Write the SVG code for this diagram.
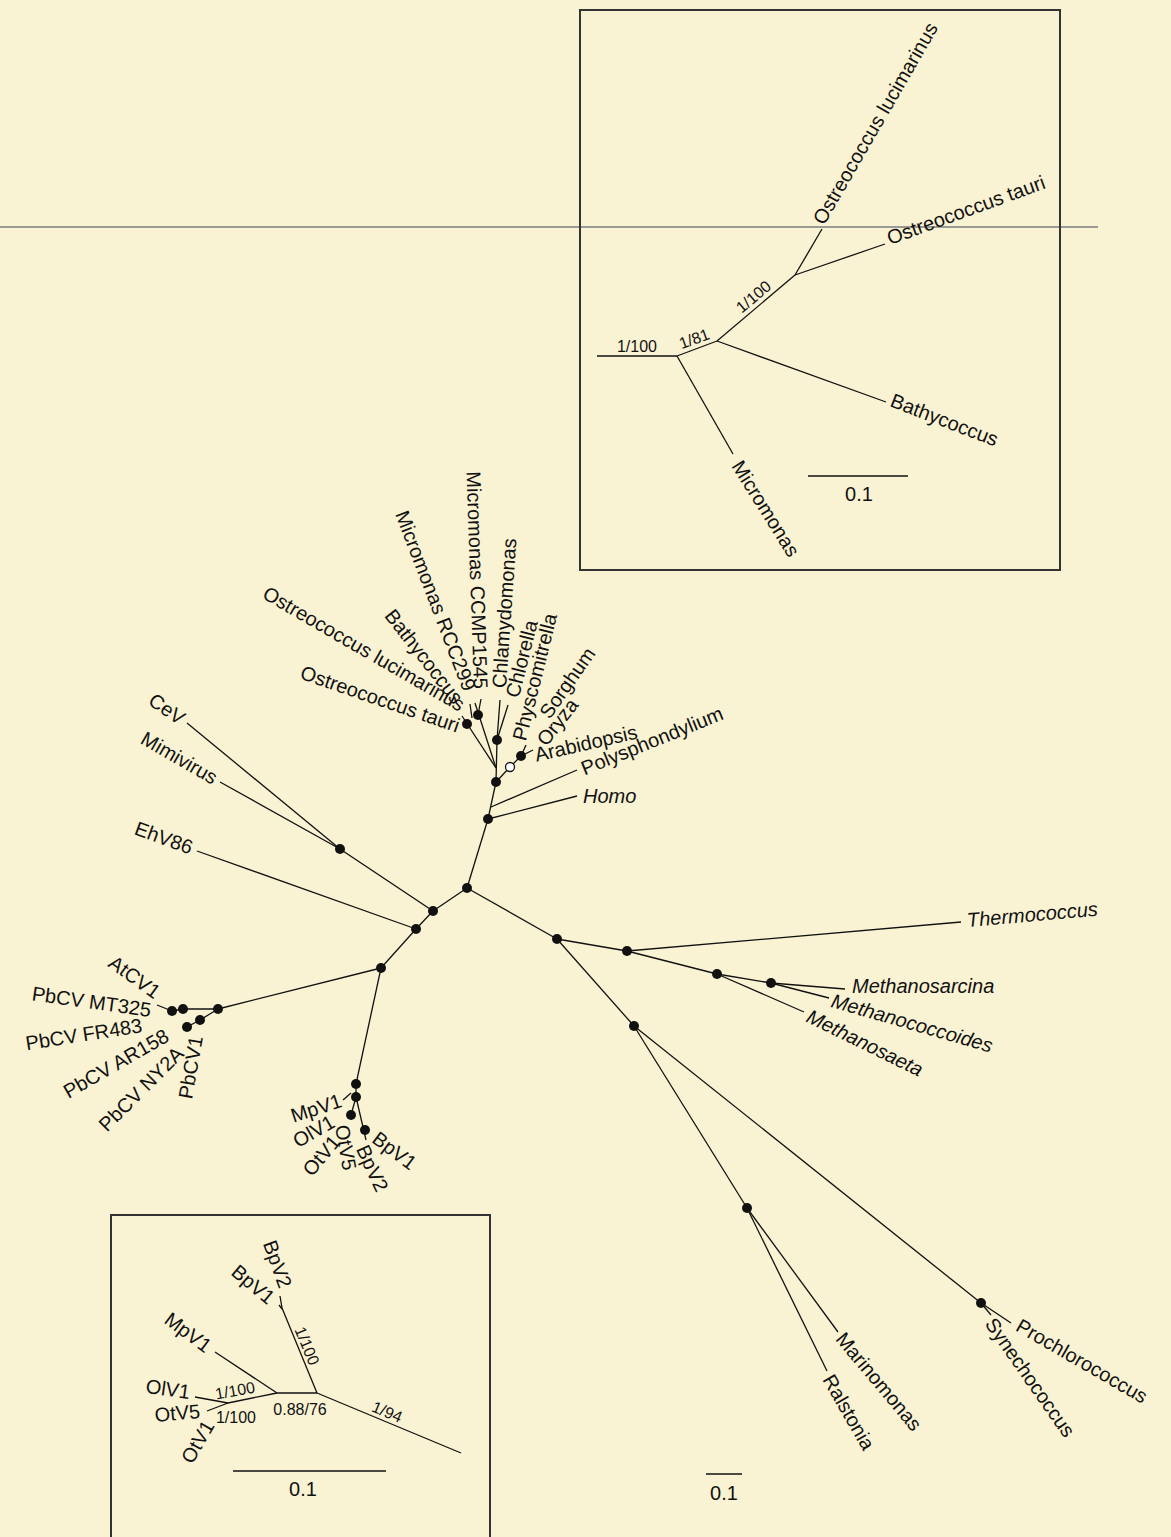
<svg xmlns="http://www.w3.org/2000/svg" width="1171" height="1537" viewBox="0 0 1171 1537">
<style>
.t{font-family:"Liberation Sans",Arial,sans-serif;font-size:20px;fill:#111}
.i{font-style:italic}
.s{font-size:16px}
.c{dominant-baseline:central}
.e line{stroke:#111;stroke-width:1.3;fill:none}
.d{fill:#111}
.o{fill:#fff;stroke:#111;stroke-width:1.3}
.box{fill:none;stroke:#333;stroke-width:2}
</style>
<rect width="1171" height="1537" fill="#FAF3D3"/>
<line x1="0" y1="227" x2="1098" y2="227" stroke="#9a9a96" stroke-width="2"/>

<!-- top inset -->
<g id="inset-top">
<rect class="box" x="580" y="10" width="480" height="560"/>
<g class="e">
<line x1="597" y1="356" x2="677" y2="356"/>
<line x1="677" y1="356" x2="717" y2="341"/>
<line x1="677" y1="356" x2="733" y2="454"/>
<line x1="717" y1="341" x2="795" y2="275"/>
<line x1="717" y1="341" x2="886" y2="402"/>
<line x1="795" y1="275" x2="822" y2="229"/>
<line x1="795" y1="275" x2="885" y2="244"/>
<line x1="808" y1="476" x2="908" y2="476"/>
</g>
<text class="t s" x="637" y="352" text-anchor="middle">1/100</text>
<text class="t s" text-anchor="middle" transform="translate(696,344) rotate(-20)">1/81</text>
<text class="t s" text-anchor="middle" transform="translate(757,301) rotate(-40)">1/100</text>
<text class="t" transform="translate(824,226) rotate(-60)">Ostreococcus lucimarinus</text>
<text class="t" transform="translate(890,245) rotate(-20)">Ostreococcus tauri</text>
<text class="t" transform="translate(889,406) rotate(21)">Bathycoccus</text>
<text class="t" transform="translate(731,466) rotate(58)">Micromonas</text>
<text class="t" x="859" y="501" text-anchor="middle">0.1</text>
</g>

<!-- bottom inset -->
<g id="inset-bottom">
<rect class="box" x="111" y="1215" width="379" height="340"/>
<g class="e">
<line x1="317" y1="1393" x2="277" y2="1393"/>
<line x1="277" y1="1393" x2="228" y2="1403"/>
<line x1="277" y1="1393" x2="215" y2="1352"/>
<line x1="317" y1="1393" x2="282" y2="1308"/>
<line x1="282" y1="1308" x2="280" y2="1296"/>
<line x1="282" y1="1309" x2="279" y2="1305"/>
<line x1="317" y1="1393" x2="461" y2="1453"/>
<line x1="228" y1="1403" x2="195" y2="1397"/>
<line x1="228" y1="1403" x2="207" y2="1411"/>
<line x1="233" y1="1471" x2="386" y2="1471"/>
</g>
<text class="t s" text-anchor="middle" transform="translate(385,1417) rotate(22.6)">1/94</text>
<text class="t s" text-anchor="middle" transform="translate(302,1348) rotate(67.6)">1/100</text>
<text class="t s" text-anchor="middle" transform="translate(236,1396) rotate(-10)">1/100</text>
<text class="t s" x="236" y="1423" text-anchor="middle">1/100</text>
<text class="t s" x="300" y="1415" text-anchor="middle">0.88/76</text>
<text class="t c" text-anchor="end" transform="translate(190,1392) rotate(8)">OlV1</text>
<text class="t c" text-anchor="end" transform="translate(200,1411) rotate(-5)">OtV5</text>
<text class="t c" text-anchor="end" transform="translate(209,1422) rotate(-60)">OtV1</text>
<text class="t c" text-anchor="end" transform="translate(209,1348) rotate(37)">MpV1</text>
<text class="t c" text-anchor="end" transform="translate(272,1300) rotate(40)">BpV1</text>
<text class="t c" text-anchor="end" transform="translate(286,1287) rotate(70)">BpV2</text>
<text class="t" x="303" y="1496" text-anchor="middle">0.1</text>
</g>

<!-- connectors of main tree -->
<g id="connectors" class="e">
<line x1="467" y1="888" x2="433" y2="911"/>
<line x1="433" y1="911" x2="340" y2="849"/>
<line x1="340" y1="849" x2="187" y2="723"/>
<line x1="340" y1="849" x2="220" y2="782"/>
<line x1="433" y1="911" x2="416" y2="929"/>
<line x1="416" y1="929" x2="197" y2="851"/>
<line x1="416" y1="929" x2="381" y2="968"/>
<line x1="381" y1="968" x2="218" y2="1009"/>
<line x1="218" y1="1009" x2="183" y2="1009"/>
<line x1="183" y1="1009" x2="172" y2="1011"/>
<line x1="172" y1="1011" x2="157" y2="1005"/>
<line x1="218" y1="1009" x2="200" y2="1020"/>
<line x1="200" y1="1020" x2="187" y2="1027"/>
<line x1="381" y1="968" x2="356" y2="1084"/>
<line x1="356" y1="1084" x2="356" y2="1097"/>
<line x1="356" y1="1097" x2="366" y2="1140"/>
<line x1="356" y1="1097" x2="351" y2="1115"/>
<line x1="351" y1="1093" x2="343" y2="1100"/>
<line x1="467" y1="888" x2="488" y2="819"/>
<line x1="488" y1="819" x2="577" y2="796"/>
<line x1="488" y1="819" x2="496" y2="782"/>
<line x1="491" y1="807" x2="577" y2="770"/>
<line x1="496" y1="782" x2="497" y2="740"/>
<line x1="496" y1="768" x2="475" y2="703"/>
<line x1="496" y1="768" x2="462" y2="716"/>
<line x1="478" y1="715" x2="481" y2="699"/>
<line x1="472" y1="718" x2="470" y2="704"/>
<line x1="497" y1="740" x2="500" y2="700"/>
<line x1="497" y1="740" x2="508" y2="705"/>
<line x1="496" y1="782" x2="510" y2="767"/>
<line x1="510" y1="767" x2="521" y2="756"/>
<line x1="521" y1="756" x2="533" y2="750"/>
<line x1="521" y1="756" x2="526" y2="745"/>
<line x1="467" y1="888" x2="557" y2="939"/>
<line x1="557" y1="939" x2="627" y2="951"/>
<line x1="627" y1="951" x2="961" y2="922"/>
<line x1="627" y1="951" x2="717" y2="974"/>
<line x1="717" y1="974" x2="771" y2="983"/>
<line x1="771" y1="983" x2="845" y2="989"/>
<line x1="771" y1="983" x2="829" y2="998"/>
<line x1="717" y1="974" x2="804" y2="1012"/>
<line x1="557" y1="939" x2="634" y2="1026"/>
<line x1="634" y1="1026" x2="747" y2="1208"/>
<line x1="747" y1="1208" x2="838" y2="1332"/>
<line x1="747" y1="1208" x2="827" y2="1371"/>
<line x1="634" y1="1026" x2="981" y2="1303"/>
<line x1="981" y1="1303" x2="1011" y2="1323"/>
<line x1="981" y1="1303" x2="991" y2="1315"/>
<line x1="706" y1="1474" x2="742" y2="1474"/>
</g>

<!-- internal nodes -->
<g id="n1"><circle class="d" cx="467" cy="888" r="5"/></g>
<g id="n2"><circle class="d" cx="433" cy="911" r="5"/></g>
<g id="n3"><circle class="d" cx="416" cy="929" r="5"/></g>
<g id="n4"><circle class="d" cx="381" cy="968" r="5"/></g>
<g id="n-mimi"><circle class="d" cx="340" cy="849" r="5"/></g>
<g id="n-up1"><circle class="d" cx="488" cy="819" r="5"/></g>
<g id="n-up2"><circle class="d" cx="496" cy="782" r="5"/></g>
<g id="n-green"><circle class="d" cx="497" cy="740" r="5"/></g>
<g id="n-ostreo"><circle class="d" cx="467" cy="724" r="5"/></g>
<g id="n-micro"><circle class="d" cx="478" cy="715" r="5"/></g>
<g id="n-plant"><circle class="d" cx="521" cy="756" r="5"/></g>
<g id="n-open"><circle class="o" cx="510" cy="767" r="4.5"/></g>
<g id="n5"><circle class="d" cx="557" cy="939" r="5"/></g>
<g id="n6"><circle class="d" cx="627" cy="951" r="5"/></g>
<g id="n7"><circle class="d" cx="717" cy="974" r="5"/></g>
<g id="n8"><circle class="d" cx="771" cy="983" r="5"/></g>
<g id="n9"><circle class="d" cx="634" cy="1026" r="5"/></g>
<g id="n10"><circle class="d" cx="747" cy="1208" r="5"/></g>
<g id="n11"><circle class="d" cx="981" cy="1303" r="5"/></g>
<g id="p1"><circle class="d" cx="218" cy="1009" r="5"/></g>
<g id="q1"><circle class="d" cx="183" cy="1009" r="5"/></g>
<g id="q2"><circle class="d" cx="172" cy="1011" r="5"/></g>
<g id="q3"><circle class="d" cx="200" cy="1020" r="5"/></g>
<g id="q4"><circle class="d" cx="187" cy="1027" r="5"/></g>
<g id="m1"><circle class="d" cx="356" cy="1084" r="5"/></g>
<g id="m2"><circle class="d" cx="356" cy="1097" r="5"/></g>
<g id="m3"><circle class="d" cx="351" cy="1115" r="5"/></g>
<g id="m4"><circle class="d" cx="365" cy="1130" r="5"/></g>

<!-- leaves -->
<g id="leaf-cev"><text class="t c" text-anchor="end" transform="translate(183,720) rotate(35)">CeV</text></g>
<g id="leaf-mimivirus"><text class="t c" text-anchor="end" transform="translate(216,779) rotate(30)">Mimivirus</text></g>
<g id="leaf-ehv86"><text class="t c" text-anchor="end" transform="translate(192,848) rotate(20)">EhV86</text></g>
<g id="leaf-atcv1"><text class="t c" text-anchor="end" transform="translate(158,994) rotate(36)">AtCV1</text></g>
<g id="leaf-mt325"><text class="t c" text-anchor="end" transform="translate(151,1010) rotate(8)">PbCV MT325</text></g>
<g id="leaf-fr483"><text class="t c" text-anchor="end" transform="translate(142,1025) rotate(-9)">PbCV FR483</text></g>
<g id="leaf-ar158"><text class="t c" text-anchor="end" transform="translate(167,1034) rotate(-30)">PbCV AR158</text></g>
<g id="leaf-ny2a"><text class="t c" text-anchor="end" transform="translate(180,1050) rotate(-45)">PbCV NY2A</text></g>
<g id="leaf-pbcv1"><text class="t c" text-anchor="end" transform="translate(196,1036) rotate(-80)">PbCV1</text></g>
<g id="leaf-mpv1"><text class="t c" text-anchor="end" transform="translate(341,1100) rotate(-18)">MpV1</text></g>
<g id="leaf-olv1"><text class="t c" text-anchor="end" transform="translate(333,1120) rotate(-30)">OlV1</text></g>
<g id="leaf-otv1"><text class="t c" text-anchor="end" transform="translate(336,1138) rotate(-50)">OtV1</text></g>
<g id="leaf-otv5"><text class="t c" transform="translate(342,1125) rotate(80)">OtV5</text></g>
<g id="leaf-bpv2"><text class="t c" transform="translate(362,1146) rotate(65)">BpV2</text></g>
<g id="leaf-bpv1"><text class="t c" transform="translate(375,1136) rotate(37)">BpV1</text></g>
<g id="leaf-otauri"><text class="t c" text-anchor="end" transform="translate(459,726) rotate(19)">Ostreococcus tauri</text></g>
<g id="leaf-oluci"><text class="t c" text-anchor="end" transform="translate(463,706) rotate(30)">Ostreococcus lucimarinus</text></g>
<g id="leaf-bathy"><text class="t c" text-anchor="end" transform="translate(459,701) rotate(52)">Bathycoccus</text></g>
<g id="leaf-rcc299"><text class="t c" text-anchor="end" transform="translate(470,690) rotate(69)">Micromonas RCC299</text></g>
<g id="leaf-ccmp1545"><text class="t c" text-anchor="end" transform="translate(481,689) rotate(88)">Micromonas CCMP1545</text></g>
<g id="leaf-chlamy"><text class="t c" transform="translate(499,688) rotate(-86)">Chlamydomonas</text></g>
<g id="leaf-chlorella"><text class="t c" transform="translate(512,697) rotate(-76)">Chlorella</text></g>
<g id="leaf-physco"><text class="t c" transform="translate(519,740) rotate(-76)">Physcomitrella</text></g>
<g id="leaf-sorghum"><text class="t c" transform="translate(544,716) rotate(-55)">Sorghum</text></g>
<g id="leaf-oryza"><text class="t c" transform="translate(541,743) rotate(-52)">Oryza</text></g>
<g id="leaf-arabidopsis"><text class="t c" transform="translate(535,755) rotate(-13)">Arabidopsis</text></g>
<g id="leaf-polysph"><text class="t c" transform="translate(582,769) rotate(-22)">Polysphondylium</text></g>
<g id="leaf-homo"><text class="t i" x="583" y="803">Homo</text></g>
<g id="leaf-thermo"><text class="t i c" transform="translate(967,920) rotate(-5)">Thermococcus</text></g>
<g id="leaf-msarcina"><text class="t i" x="852" y="993">Methanosarcina</text></g>
<g id="leaf-mcoccoides"><text class="t i c" transform="translate(832,1000) rotate(16)">Methanococcoides</text></g>
<g id="leaf-msaeta"><text class="t i c" transform="translate(808,1015) rotate(26)">Methanosaeta</text></g>
<g id="leaf-marino"><text class="t c" transform="translate(840,1335) rotate(50)">Marinomonas</text></g>
<g id="leaf-ralstonia"><text class="t c" transform="translate(828,1376) rotate(60)">Ralstonia</text></g>
<g id="leaf-synecho"><text class="t c" transform="translate(990,1320) rotate(55)">Synechococcus</text></g>
<g id="leaf-prochloro"><text class="t c" transform="translate(1018,1324) rotate(30)">Prochlorococcus</text></g>
<g id="scale-main"><text class="t" x="724" y="1500" text-anchor="middle">0.1</text></g>
</svg>
